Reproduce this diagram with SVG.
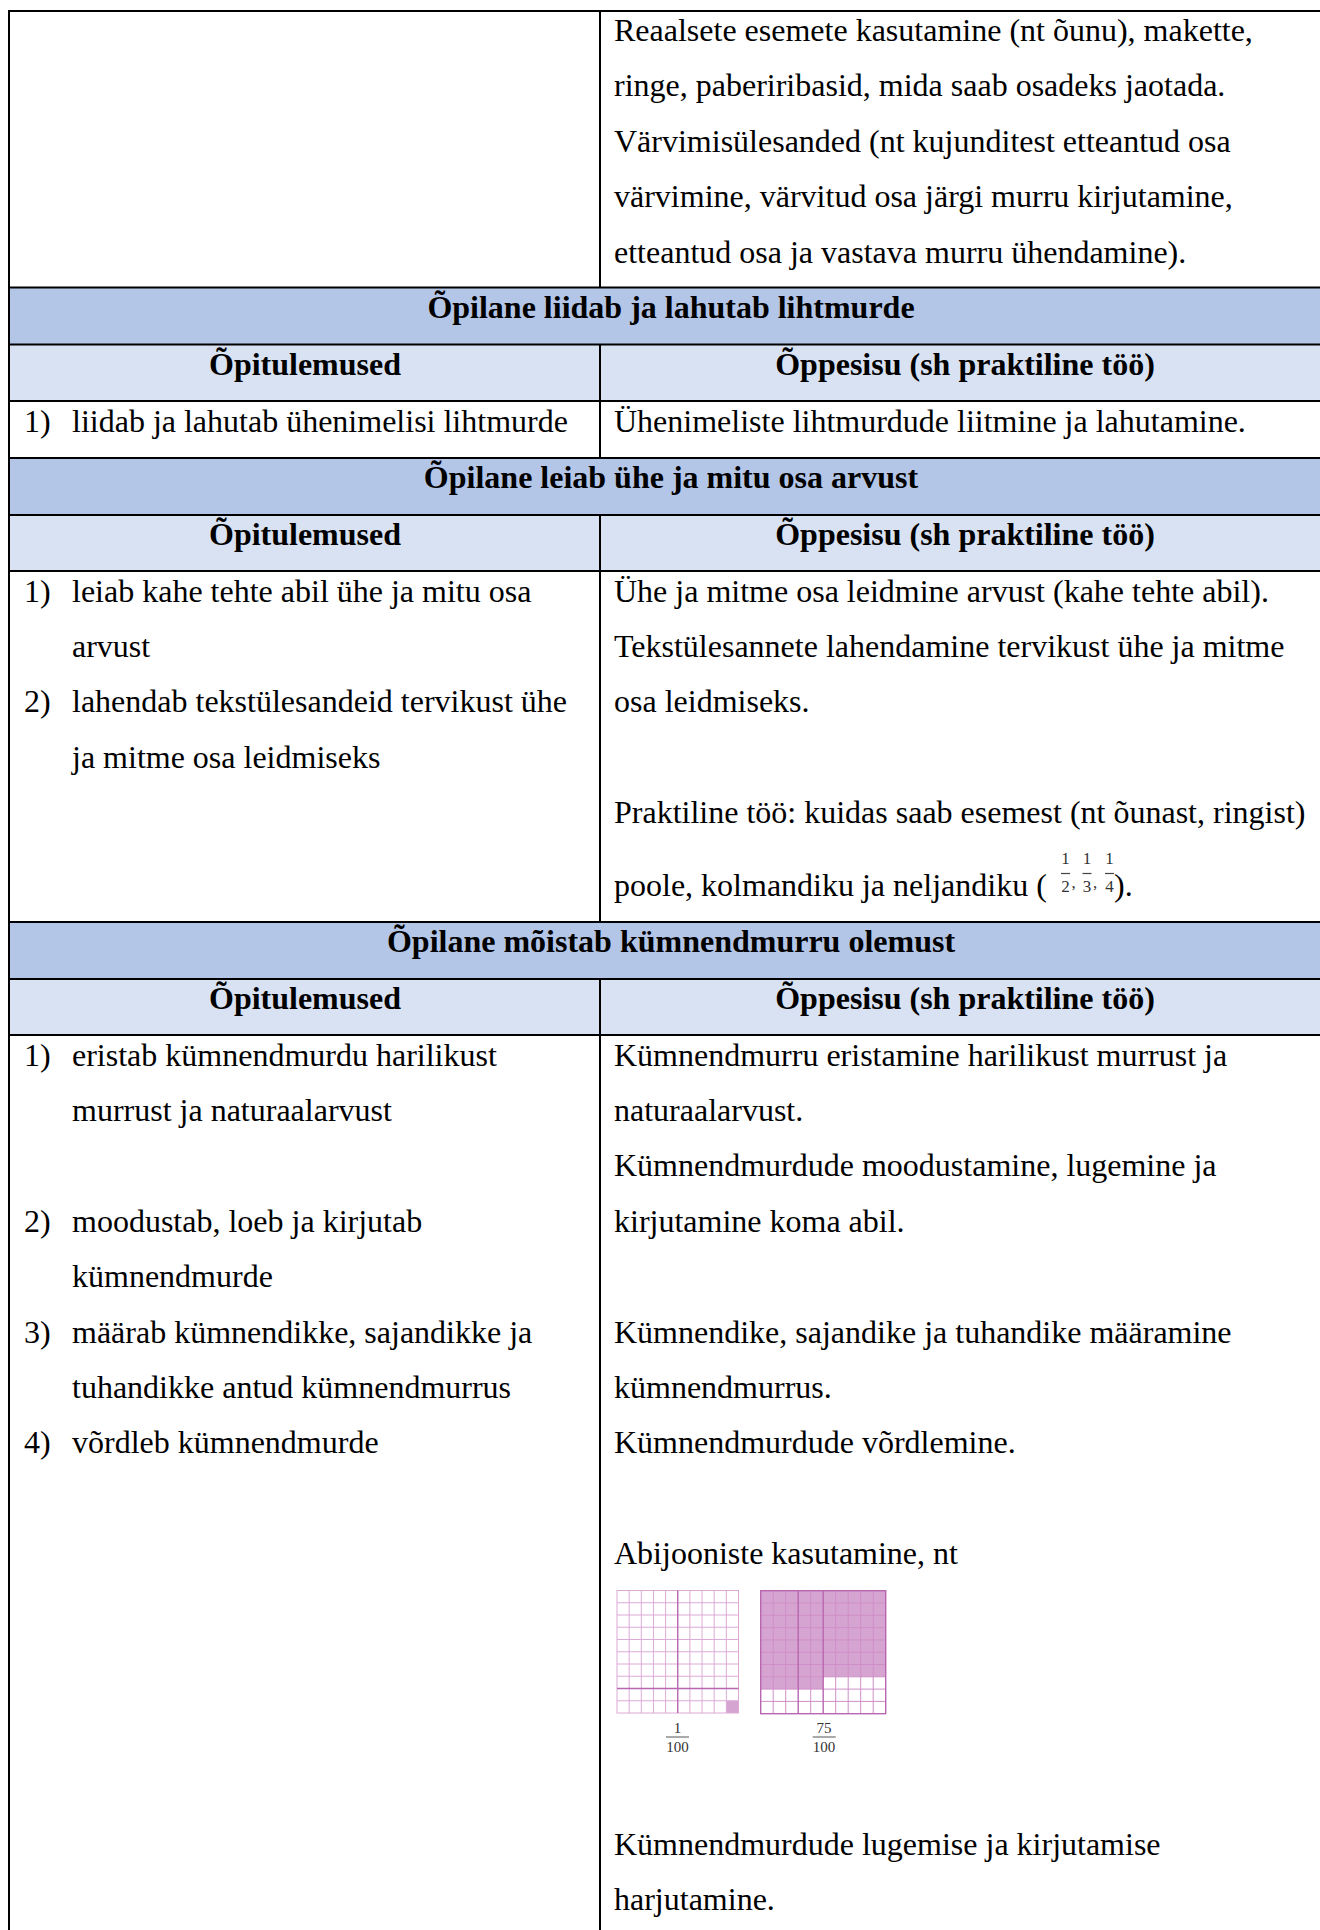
<svg xmlns="http://www.w3.org/2000/svg" width="1320" height="1930" viewBox="0 0 1320 1930">
<style>
.t{font-family:"Liberation Serif","Times New Roman",serif;font-size:32px;fill:#000}
.b{font-weight:bold}
.c{text-anchor:middle}
.band{fill:#b4c6e7}
.sub{fill:#d9e2f3}
.ln{stroke:#000;stroke-width:2;fill:none}
.fr{font-family:"Liberation Serif","Times New Roman",serif;font-size:17px;fill:#333;text-anchor:middle}
.frl{stroke:#444;stroke-width:1.2}
.gl{fill:none;stroke:#dcaad6;stroke-width:1}
.gd{fill:none;stroke:#b866b0;stroke-width:1.4}
.shade{fill:#d6a4d0}
.lab{font-family:"Liberation Serif","Times New Roman",serif;font-size:15px;fill:#333;text-anchor:middle}
</style>
<rect x="0" y="0" width="1320" height="1930" fill="#fff"/>

<g id="fills">
<rect class="band" x="9" y="287.5" width="1323" height="57"/>
<rect class="sub" x="9" y="344.5" width="1323" height="56.5"/>
<rect class="band" x="9" y="458" width="1323" height="57"/>
<rect class="sub" x="9" y="515" width="1323" height="56"/>
<rect class="band" x="9" y="922" width="1323" height="57"/>
<rect class="sub" x="9" y="979" width="1323" height="56"/>
</g>

<g id="row-top">
<text class="t" x="614" y="41">Reaalsete esemete kasutamine (nt õunu), makette,</text>
<text class="t" x="614" y="96.4">ringe, paberiribasid, mida saab osadeks jaotada.</text>
<text class="t" x="614" y="151.8">Värvimisülesanded (nt kujunditest etteantud osa</text>
<text class="t" x="614" y="207.2">värvimine, värvitud osa järgi murru kirjutamine,</text>
<text class="t" x="614" y="262.6">etteantud osa ja vastava murru ühendamine).</text>
</g>

<g id="section-1">
<text class="t b c" x="671" y="317.5">Õpilane liidab ja lahutab lihtmurde</text>
<text class="t b c" x="305" y="374.5">Õpitulemused</text>
<text class="t b c" x="965" y="374.5">Õppesisu (sh praktiline töö)</text>
<text class="t" x="24" y="431.5">1)</text>
<text class="t" x="72" y="431.5">liidab ja lahutab ühenimelisi lihtmurde</text>
<text class="t" x="614" y="431.5">Ühenimeliste lihtmurdude liitmine ja lahutamine.</text>
</g>

<g id="section-2">
<text class="t b c" x="671" y="488">Õpilane leiab ühe ja mitu osa arvust</text>
<text class="t b c" x="305" y="544.5">Õpitulemused</text>
<text class="t b c" x="965" y="544.5">Õppesisu (sh praktiline töö)</text>
<text class="t" x="24" y="601.5">1)</text>
<text class="t" x="72" y="601.5">leiab kahe tehte abil ühe ja mitu osa</text>
<text class="t" x="72" y="657">arvust</text>
<text class="t" x="24" y="712.4">2)</text>
<text class="t" x="72" y="712.4">lahendab tekstülesandeid tervikust ühe</text>
<text class="t" x="72" y="767.8">ja mitme osa leidmiseks</text>
<text class="t" x="614" y="601.5">Ühe ja mitme osa leidmine arvust (kahe tehte abil).</text>
<text class="t" x="614" y="657">Tekstülesannete lahendamine tervikust ühe ja mitme</text>
<text class="t" x="614" y="712.4">osa leidmiseks.</text>
<text class="t" x="614" y="823.2">Praktiline töö: kuidas saab esemest (nt õunast, ringist)</text>
<text class="t" x="614" y="895.5">poole, kolmandiku ja neljandiku (</text>
<text class="t" x="1114" y="895.5">).</text>
<g id="inline-fractions">
<text class="fr" x="1065.5" y="864">1</text>
<line class="frl" x1="1061" y1="873.5" x2="1070" y2="873.5"/>
<text class="fr" x="1065.5" y="892">2</text>
<text class="fr" x="1073.5" y="888">,</text>
<text class="fr" x="1087" y="864">1</text>
<line class="frl" x1="1082.5" y1="873.5" x2="1091.5" y2="873.5"/>
<text class="fr" x="1087" y="892">3</text>
<text class="fr" x="1095" y="888">,</text>
<text class="fr" x="1109.5" y="864">1</text>
<line class="frl" x1="1105" y1="873.5" x2="1114" y2="873.5"/>
<text class="fr" x="1109.5" y="892">4</text>
</g>
</g>

<g id="section-3">
<text class="t b c" x="671" y="952">Õpilane mõistab kümnendmurru olemust</text>
<text class="t b c" x="305" y="1008.5">Õpitulemused</text>
<text class="t b c" x="965" y="1008.5">Õppesisu (sh praktiline töö)</text>
<text class="t" x="24" y="1065.5">1)</text>
<text class="t" x="72" y="1065.5">eristab kümnendmurdu harilikust</text>
<text class="t" x="72" y="1120.9">murrust ja naturaalarvust</text>
<text class="t" x="24" y="1231.7">2)</text>
<text class="t" x="72" y="1231.7">moodustab, loeb ja kirjutab</text>
<text class="t" x="72" y="1287.1">kümnendmurde</text>
<text class="t" x="24" y="1342.5">3)</text>
<text class="t" x="72" y="1342.5">määrab kümnendikke, sajandikke ja</text>
<text class="t" x="72" y="1397.9">tuhandikke antud kümnendmurrus</text>
<text class="t" x="24" y="1453.3">4)</text>
<text class="t" x="72" y="1453.3">võrdleb kümnendmurde</text>
<text class="t" x="614" y="1065.5">Kümnendmurru eristamine harilikust murrust ja</text>
<text class="t" x="614" y="1120.9">naturaalarvust.</text>
<text class="t" x="614" y="1176.3">Kümnendmurdude moodustamine, lugemine ja</text>
<text class="t" x="614" y="1231.7">kirjutamine koma abil.</text>
<text class="t" x="614" y="1342.5">Kümnendike, sajandike ja tuhandike määramine</text>
<text class="t" x="614" y="1397.9">kümnendmurrus.</text>
<text class="t" x="614" y="1453.3">Kümnendmurdude võrdlemine.</text>
<text class="t" x="614" y="1564.1">Abijooniste kasutamine, nt</text>
<text class="t" x="614" y="1855">Kümnendmurdude lugemise ja kirjutamise</text>
<text class="t" x="614" y="1910">harjutamine.</text>
</g>

<g id="grid-1-100">
<rect x="617" y="1590.5" width="121.5" height="122.5" fill="#fff"/>
<rect class="shade" x="726.35" y="1700.75" width="12.15" height="12.25"/>
<path class="gl" d="M629.15 1590.5V1713M641.3 1590.5V1713M653.45 1590.5V1713M665.6 1590.5V1713M689.9 1590.5V1713M702.05 1590.5V1713M714.2 1590.5V1713M726.35 1590.5V1713M617 1602.75H738.5M617 1615H738.5M617 1627.25H738.5M617 1639.5H738.5M617 1651.75H738.5M617 1664H738.5M617 1676.25H738.5M617 1700.75H738.5"/>
<rect class="gl" x="617" y="1590.5" width="121.5" height="122.5"/>
<path class="gd" d="M677.75 1590.5V1713M617 1688.5H738.5"/>
<text class="lab" x="677.5" y="1733">1</text>
<line x1="666" y1="1737" x2="689" y2="1737" stroke="#555" stroke-width="1"/>
<text class="lab" x="677.5" y="1752">100</text>
</g>

<g id="grid-75-100">
<rect x="760.7" y="1590.7" width="125" height="123" fill="#fff"/>
<path class="shade" d="M760.7 1590.7H885.7V1676.8H823.2V1689.1H760.7Z"/>
<path fill="none" stroke="#cf8fc8" stroke-width="1" d="M773.2 1590.7V1713.7M785.7 1590.7V1713.7M810.7 1590.7V1713.7M835.7 1590.7V1713.7M848.2 1590.7V1713.7M860.7 1590.7V1713.7M873.2 1590.7V1713.7M760.7 1603H885.7M760.7 1615.3H885.7M760.7 1627.6H885.7M760.7 1639.9H885.7M760.7 1652.2H885.7M760.7 1664.5H885.7M760.7 1676.8H885.7M760.7 1689.1H885.7M760.7 1701.4H885.7"/>
<path class="gd" d="M798.2 1590.7V1713.7M823.2 1590.7V1713.7"/>
<rect class="gd" x="760.7" y="1590.7" width="125" height="123"/>
<text class="lab" x="824" y="1733">75</text>
<line x1="812.7" y1="1737" x2="835.7" y2="1737" stroke="#555" stroke-width="1"/>
<text class="lab" x="824" y="1752">100</text>
</g>

<g id="connectors">
<path class="ln" d="M9 11H1332M9 287.5H1332M9 344.5H1332M9 401H1332M9 458H1332M9 515H1332M9 571H1332M9 922H1332M9 979H1332M9 1035H1332M9 10V1930M600 11V287.5M600 344.5V458M600 515V922M600 979V1930"/>
</g>
</svg>
